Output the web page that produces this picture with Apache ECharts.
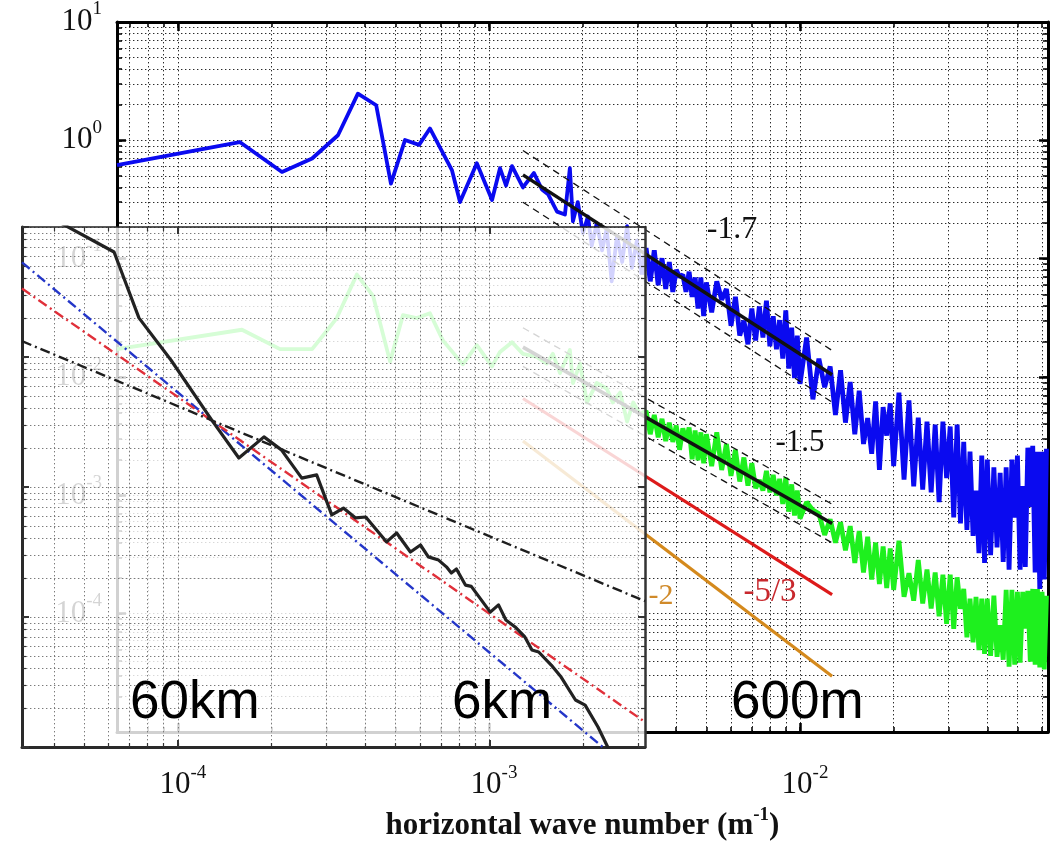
<!DOCTYPE html>
<html>
<head>
<meta charset="utf-8">
<script src="https://cdn.jsdelivr.net/npm/echarts@6/dist/echarts.min.js"></script>
<style>
  html, body { margin: 0; padding: 0; background: #fff; }
  #chart { width: 1064px; height: 846px; }
</style>
</head>
<body>
<div id="chart"></div>
<script>
// ---------- horizontal wave-number spectra (k in m^-1) ----------
// blue spectrum, low wave numbers
const blueLowK = [6.37e-5, 1.58e-4, 2.16e-4, 2.70e-4, 3.27e-4, 3.79e-4, 4.34e-4, 4.84e-4, 5.37e-4, 5.96e-4,
  6.46e-4, 7.60e-4, 8.07e-4, 9.14e-4, 1.023e-3, 1.085e-3, 1.135e-3, 1.186e-3, 1.286e-3, 1.395e-3,
  1.480e-3, 1.548e-3, 1.655e-3, 1.755e-3, 1.82e-3, 1.862e-3, 1.93e-3, 2.005e-3, 2.08e-3, 2.14e-3,
  2.22e-3, 2.31e-3, 2.39e-3, 2.48e-3, 2.58e-3, 2.68e-3, 2.78e-3, 2.88e-3, 2.99e-3, 3.10e-3];
const blueLowE = [0.617, 0.968, 0.541, 0.703, 1.105, 2.48, 1.98, 0.431, 1.006, 0.916,
  1.26, 0.561, 0.301, 0.640, 0.313, 0.582, 0.415, 0.605, 0.400, 0.530,
  0.385, 0.351, 0.250, 0.236, 0.582, 0.207, 0.301, 0.165, 0.227, 0.129,
  0.199, 0.1175, 0.178, 0.0644, 0.156, 0.0938, 0.188, 0.0838, 0.142, 0.0734];

// green spectrum, low wave numbers
const greenLowK = [6.37e-5, 1.607e-4, 2.13e-4, 2.70e-4, 3.03e-4, 3.24e-4, 3.76e-4, 4.24e-4, 4.81e-4, 5.29e-4,
  5.86e-4, 6.46e-4, 7.11e-4, 8.24e-4, 9.14e-4, 1.023e-3, 1.085e-3, 1.186e-3, 1.286e-3, 1.425e-3,
  1.535e-3, 1.605e-3, 1.692e-3, 1.782e-3, 1.82e-3, 1.862e-3, 1.962e-3, 2.065e-3, 2.22e-3, 2.39e-3,
  2.50e-3, 2.64e-3, 2.78e-3, 2.91e-3, 3.06e-3];
const greenLowE = [0.0172, 0.0251, 0.0172, 0.0172, 0.0251, 0.0315, 0.0734, 0.0485, 0.0135, 0.0333,
  0.0315, 0.0346, 0.0204, 0.0128, 0.0186, 0.0123, 0.0163, 0.0197, 0.0157, 0.0148,
  0.0130, 0.0157, 0.0108, 0.0148, 0.0169, 0.0089, 0.0130, 0.0061, 0.0089, 0.0080,
  0.0061, 0.0074, 0.0042, 0.0061, 0.0048];

// high wave numbers, shared by both spectra
const highK = [0.0032, 0.0033, 0.0034, 0.0035, 0.0036, 0.0037, 0.0038, 0.0039, 0.0040, 0.0041,
  0.0042, 0.0043, 0.0044, 0.0045, 0.0046, 0.0047, 0.0048, 0.0049, 0.0050, 0.0052,
  0.0054, 0.0056, 0.0058, 0.0060, 0.0062, 0.0064, 0.0066, 0.0068, 0.0070, 0.0072,
  0.0074, 0.0076, 0.0078, 0.0080, 0.0082, 0.0084, 0.0086, 0.0088, 0.0090, 0.0092,
  0.0094, 0.0096, 0.0098, 0.0100, 0.0105, 0.0110, 0.0115, 0.0120, 0.0125, 0.0130,
  0.0135, 0.0140, 0.0145, 0.0150, 0.0155, 0.0160, 0.0165, 0.0170, 0.0175, 0.0180,
  0.0185, 0.0190, 0.0195, 0.0200, 0.0208, 0.0216, 0.0224, 0.0232, 0.0240, 0.0248,
  0.0256, 0.0264, 0.0272, 0.0280, 0.0288, 0.0296, 0.0304, 0.0312, 0.0320, 0.0328,
  0.0336, 0.0344, 0.0352, 0.0360, 0.0368, 0.0376, 0.0384, 0.0392, 0.0400, 0.041,
  0.042, 0.043, 0.044, 0.045, 0.046, 0.047, 0.048, 0.049, 0.050, 0.051,
  0.052, 0.053, 0.054, 0.055, 0.056, 0.057, 0.058, 0.059, 0.060, 0.061,
  0.062];
const blueHighE = [0.123, 0.0644, 0.118, 0.0597, 0.101, 0.0554, 0.0938, 0.0524, 0.0806, 0.070,
  0.0734, 0.0524, 0.0777, 0.0476, 0.0693, 0.0380, 0.0693, 0.0327, 0.0631, 0.0352,
  0.0644, 0.045, 0.0554, 0.0271, 0.0476, 0.0224, 0.030, 0.0189, 0.0380, 0.0204,
  0.0394, 0.0216, 0.0442, 0.0182, 0.0327, 0.0172, 0.0303, 0.0143, 0.0366, 0.0118,
  0.0261, 0.00978, 0.0224, 0.00874, 0.0216, 0.00648, 0.0143, 0.0082, 0.0123, 0.00479,
  0.0114, 0.00412, 0.00907, 0.00329, 0.00766, 0.00272, 0.0045, 0.00225, 0.00623, 0.00164,
  0.00557, 0.0032, 0.00600, 0.00177, 0.00739, 0.00136, 0.00635, 0.00119, 0.00453, 0.00112,
  0.00420, 0.00106, 0.00397, 8.79e-4, 0.00420, 0.0014, 0.00382, 6.52e-4, 0.00397, 5.81e-4,
  0.00283, 5.10e-4, 0.00234, 4.55e-4, 0.0011, 3.25e-4, 0.00217, 2.69e-4, 0.00201, 3.12e-4,
  0.00173, 3.63e-4, 0.00155, 2.74e-4, 0.00173, 2.36e-4, 0.00201, 6.5e-4, 0.00217, 2.36e-4,
  0.0012, 2.49e-4, 0.00253, 8.0e-4, 0.00262, 2.23e-4, 0.00234, 1.62e-4, 0.00234, 1.95e-4,
  0.00248];
const greenHighE = [5.17e-3, 3.29e-3, 4.79e-3, 3.10e-3, 4.44e-3, 2.88e-3, 4.12e-3, 2.83e-3, 3.89e-3, 2.43e-3,
  3.68e-3, 2.9e-3, 3.75e-3, 2.02e-3, 3.54e-3, 1.98e-3, 3.41e-3, 1.87e-3, 3.29e-3, 1.77e-3,
  3.41e-3, 1.64e-3, 2.72e-3, 1.46e-3, 2.43e-3, 1.31e-3, 2.09e-3, 1.21e-3, 1.87e-3, 1.15e-3,
  1.35e-3, 1.10e-3, 1.61e-3, 1.06e-3, 1.49e-3, 1.00e-3, 1.38e-3, 8.47e-4, 1.41e-3, 7.29e-4,
  1.24e-3, 6.77e-4, 1.10e-3, 6.38e-4, 8.79e-4, 7.5e-4, 7.02e-4, 4.64e-4, 6.27e-4, 3.99e-4,
  5.93e-4, 3.43e-4, 5.50e-4, 2.69e-4, 5.00e-4, 2.23e-4, 4.47e-4, 1.95e-4, 3.99e-4, 1.78e-4,
  3.70e-4, 1.65e-4, 3.56e-4, 1.59e-4, 4.14e-4, 1.39e-4, 2.2e-4, 1.29e-4, 2.84e-4, 1.22e-4,
  2.36e-4, 1.11e-4, 2.23e-4, 9.54e-5, 2.14e-4, 8.21e-5, 2.14e-4, 7.45e-5, 2.03e-4, 1.1e-4,
  1.62e-4, 6.31e-5, 1.34e-4, 5.74e-5, 1.39e-4, 4.94e-5, 1.34e-4, 4.58e-5, 1.34e-4, 4.41e-5,
  1.42e-4, 4.33e-5, 8.0e-5, 4.09e-5, 1.59e-4, 3.58e-5, 1.59e-4, 3.72e-5, 1.53e-4, 3.86e-5,
  1.53e-4, 7.5e-5, 1.56e-4, 3.93e-5, 1.62e-4, 3.72e-5, 1.62e-4, 3.52e-5, 1.53e-4, 3.38e-5,
  1.42e-4];

// power-law reference lines of the main panel: value at the first wave number, slope
const fitK = [1.286e-3, 1.268e-2];
const blueSlope = -1.7;
const blueFitE = 0.511, blueUpperE = 0.82, blueLowerE = 0.30;
const greenSlope = -1.5;
const greenFitE = 0.0179, greenUpperE = 0.0261, greenLowerE = 0.0123;
const redSlope = -5 / 3, redE = 6.59e-3;
const orangeSlope = -2, orangeE = 2.88e-3;
const slopeLabels = ['-1.7', '-1.5', '-5/3', '-2'];

// ---------- inset spectrum ----------
const insetK = [3.72e-5, 6.24e-5, 7.50e-5, 9.5e-5, 1.285e-4, 1.57e-4, 1.89e-4, 2.15e-4, 2.50e-4, 2.79e-4,
  3.12e-4, 3.40e-4, 3.72e-4, 4.01e-4, 4.68e-4, 5.04e-4, 5.58e-4, 6.01e-4, 6.37e-4, 6.87e-4,
  7.28e-4, 7.55e-4, 7.84e-4, 8.38e-4, 8.75e-4, 1.007e-3, 1.07e-3, 1.13e-3, 1.21e-3, 1.30e-3,
  1.37e-3, 1.44e-3, 1.58e-3, 1.70e-3, 1.89e-3, 2.03e-3, 2.23e-3, 2.44e-3];
const insetE = [1.26, 0.642, 0.200, 0.0948, 0.0327, 0.0167, 0.0243, 0.0193, 0.0117, 0.0124,
  0.0061, 0.00689, 0.00578, 0.00588, 0.00378, 0.00443, 0.00316, 0.00358, 0.0029, 0.00274,
  0.00243, 0.00218, 0.00234, 0.00176, 0.00172, 0.00109, 0.00124, 0.000948, 0.000838, 0.000702,
  0.000557, 0.000538, 0.000427, 0.000345, 0.00023, 0.00021, 0.000143, 9.2e-5];
// dash-dot power laws through a common point: k^-2, k^-5/3, k^-1
const insetPivotK = 1.276e-4, insetPivotE = 0.0328;
const insetSlopes = [-2, -5 / 3, -1];
const insetLineK = [3.16e-5, 3.16e-3];

// scale labels
const scaleLabels = ['60km', '6km', '600m'];
const xTitle = 'horizontal wave number (m';

// ---------- axes ranges ----------
const MAIN_X = [6.37e-5, 0.0627];
const MAIN_Y = [1e-5, 10];
const INSET_X = [3.16e-5, 3.16e-3];
const INSET_Y = [1e-4, 1];

const SERIF = '"Liberation Serif", "DejaVu Serif", serif';
const SANS = '"Liberation Sans", Arial, sans-serif';

function logTicks(lo, hi, majorOnly) {
  const out = [];
  for (let e = Math.floor(Math.log10(lo)) - 1; e <= Math.ceil(Math.log10(hi)); e++) {
    for (let m = 1; m <= 9; m++) {
      if (majorOnly && m > 1) continue;
      const v = +(m * Math.pow(10, e)).toPrecision(6);
      if (v >= lo * 0.9999 && v <= hi * 1.0001) out.push(v);
    }
  }
  return out;
}

const supFormatter = v => '{b|10}{s|' + Math.round(Math.log10(v)) + '}';

function logAxis(o) {
  const ticks = logTicks(o.range[0], o.range[1], o.majorOnly);
  return {
    type: 'log', logBase: 10, gridIndex: o.grid, position: o.pos,
    min: o.range[0], max: o.range[1], z: o.z || 0, silent: true,
    axisLine: { show: !!o.line, onZero: false, lineStyle: { color: o.lineColor || '#000', width: o.line || 1 } },
    axisTick: { show: true, inside: true, length: o.tickLen, customValues: ticks,
      lineStyle: { color: o.tickColor || '#000', width: o.tickWidth } },
    axisLabel: o.label || { show: false },
    splitLine: o.split ? { show: true, customValues: ticks, lineStyle: o.split } : { show: false },
    minorTick: { show: false }, minorSplitLine: { show: false },
    name: o.name || '', nameLocation: 'middle', nameGap: o.nameGap || 0,
    nameTextStyle: o.nameStyle || {}
  };
}

const mainGridLine = { color: '#2a2a2a', width: 1, type: [1.4, 2.6] };
const insetGridLine = { color: '#7a7a7a', width: 1, type: [1.4, 2.6] };

const xLabel = {
  show: true, margin: 31, customValues: [1e-4, 1e-3, 1e-2],
  formatter: supFormatter,
  rich: {
    b: { fontFamily: SERIF, fontSize: 31, color: '#111', lineHeight: 44, padding: [0, 0, 0, 10] },
    s: { fontFamily: SERIF, fontSize: 19, color: '#111', lineHeight: 12, verticalAlign: 'top' }
  }
};
const yLabel = {
  show: true, margin: 15, customValues: [1e-4, 1e-3, 1e-2, 1e-1, 1, 10],
  formatter: supFormatter,
  rich: {
    b: { fontFamily: SERIF, fontSize: 31, color: '#111', lineHeight: 44 },
    s: { fontFamily: SERIF, fontSize: 19, color: '#111', lineHeight: 14, verticalAlign: 'top' }
  }
};

const xAxes = [
  logAxis({ grid: 0, pos: 'bottom', range: MAIN_X, line: 3, tickLen: 5, tickWidth: 1.5, split: mainGridLine,
    label: xLabel, name: '{t|' + xTitle + '}{s|-1}{t|)}', nameGap: 58,
    nameStyle: { rich: {
      t: { fontFamily: SERIF, fontWeight: 'bold', fontSize: 31, color: '#111', lineHeight: 40 },
      s: { fontFamily: SERIF, fontWeight: 'bold', fontSize: 19, color: '#111', lineHeight: 16, verticalAlign: 'top' }
    } } }),
  logAxis({ grid: 0, pos: 'top', range: MAIN_X, line: 3, tickLen: 5, tickWidth: 1.5 }),
  logAxis({ grid: 0, pos: 'bottom', range: MAIN_X, majorOnly: true, tickLen: 9, tickWidth: 2.5 }),
  logAxis({ grid: 0, pos: 'top', range: MAIN_X, majorOnly: true, tickLen: 9, tickWidth: 2.5 }),
  logAxis({ grid: 1, pos: 'bottom', range: INSET_X, line: 3, lineColor: '#2a2a2a', tickLen: 4, tickWidth: 1.2,
    tickColor: '#333', split: insetGridLine, z: 11 }),
  logAxis({ grid: 1, pos: 'top', range: INSET_X, line: 1.5, lineColor: '#222', tickLen: 4, tickWidth: 1.2, tickColor: '#333', z: 11 }),
  logAxis({ grid: 1, pos: 'bottom', range: INSET_X, majorOnly: true, tickLen: 7, tickWidth: 2, tickColor: '#333', z: 11 }),
  logAxis({ grid: 1, pos: 'top', range: INSET_X, majorOnly: true, tickLen: 7, tickWidth: 2, tickColor: '#333', z: 11 })
];
const yAxes = [
  logAxis({ grid: 0, pos: 'left', range: MAIN_Y, line: 3, tickLen: 5, tickWidth: 1.5, split: mainGridLine, label: yLabel }),
  logAxis({ grid: 0, pos: 'right', range: MAIN_Y, line: 3, tickLen: 5, tickWidth: 1.5 }),
  logAxis({ grid: 0, pos: 'left', range: MAIN_Y, majorOnly: true, tickLen: 9, tickWidth: 2.5 }),
  logAxis({ grid: 0, pos: 'right', range: MAIN_Y, majorOnly: true, tickLen: 9, tickWidth: 2.5 }),
  logAxis({ grid: 1, pos: 'left', range: INSET_Y, line: 3, lineColor: '#2a2a2a', tickLen: 4, tickWidth: 1.2,
    tickColor: '#333', split: insetGridLine, z: 11 }),
  logAxis({ grid: 1, pos: 'right', range: INSET_Y, line: 2.5, lineColor: '#333', tickLen: 4, tickWidth: 1.2, tickColor: '#333', z: 11 }),
  logAxis({ grid: 1, pos: 'left', range: INSET_Y, majorOnly: true, tickLen: 7, tickWidth: 2, tickColor: '#333', z: 11 }),
  logAxis({ grid: 1, pos: 'right', range: INSET_Y, majorOnly: true, tickLen: 7, tickWidth: 2, tickColor: '#333', z: 11 })
];

const zip = (ks, es) => ks.map((k, i) => [k, es[i]]);
const powerLaw = (k0, e0, slope, ks) => ks.map(k => [k, e0 * Math.pow(k / k0, slope)]);

function lineSeries(name, data, color, width, opts) {
  opts = opts || {};
  return {
    type: 'line', name, data, symbol: 'none', showSymbol: false, silent: true, clip: true,
    xAxisIndex: opts.inset ? 4 : 0, yAxisIndex: opts.inset ? 4 : 0,
    z: opts.z || 2, animation: false,
    lineStyle: { color, width, type: opts.type || 'solid', join: opts.join || 'round', cap: 'butt' }
  };
}

const dashed = [7, 5];
const dashDot = [10, 4, 2, 4];

// the dense high-wave-number part continues from the last low-wave-number sample
const blueLow = zip(blueLowK, blueLowE);
const greenLow = zip(greenLowK, greenLowE);
const blueHigh = [blueLow[blueLow.length - 1]].concat(zip(highK, blueHighE));
const greenHigh = [greenLow[greenLow.length - 1]].concat(zip(highK, greenHighE));

const BLUE = '#0a0af0', GREEN = '#1ef01e';

const series = [
  lineSeries('green', greenLow, GREEN, 3.8),
  lineSeries('green high', greenHigh, GREEN, 4.8, { join: 'bevel' }),
  lineSeries('blue', blueLow, BLUE, 3.8),
  lineSeries('blue high', blueHigh, BLUE, 4.8, { join: 'bevel' }),
  lineSeries('blue fit', powerLaw(fitK[0], blueFitE, blueSlope, fitK), '#111', 3.5, { z: 3 }),
  lineSeries('blue upper', powerLaw(fitK[0], blueUpperE, blueSlope, fitK), '#111', 1.3, { z: 3, type: dashed }),
  lineSeries('blue lower', powerLaw(fitK[0], blueLowerE, blueSlope, fitK), '#111', 1.3, { z: 3, type: dashed }),
  lineSeries('green fit', powerLaw(fitK[0], greenFitE, greenSlope, fitK), '#111', 3.5, { z: 3 }),
  lineSeries('green upper', powerLaw(fitK[0], greenUpperE, greenSlope, fitK), '#111', 1.3, { z: 3, type: dashed }),
  lineSeries('green lower', powerLaw(fitK[0], greenLowerE, greenSlope, fitK), '#111', 1.3, { z: 3, type: dashed }),
  lineSeries('-5/3', powerLaw(fitK[0], redE, redSlope, fitK), '#dd1a1a', 3.2, { z: 3 }),
  lineSeries('-2', powerLaw(fitK[0], orangeE, orangeSlope, fitK), '#d4891c', 3.2, { z: 3 }),
  // inset
  lineSeries('inset -2', powerLaw(insetPivotK, insetPivotE, insetSlopes[0], insetLineK), '#2436c8', 2.4, { inset: true, z: 12, type: dashDot }),
  lineSeries('inset -5/3', powerLaw(insetPivotK, insetPivotE, insetSlopes[1], insetLineK), '#e0303a', 2.4, { inset: true, z: 12, type: dashDot }),
  lineSeries('inset -1', powerLaw(insetPivotK, insetPivotE, insetSlopes[2], insetLineK), '#1e1e1e', 2.4, { inset: true, z: 12, type: dashDot }),
  lineSeries('inset spectrum', zip(insetK, insetE), '#222', 3.2, { inset: true, z: 13 })
];

function text(str, x, y, font, color, align) {
  return {
    type: 'text', x, y, z: 50, silent: true,
    style: { text: str, font, fill: color, align: align || 'center', verticalAlign: 'middle',
      textAlign: align || 'center', textVerticalAlign: 'middle' }
  };
}

const option = {
  backgroundColor: '#fff',
  animation: false,
  grid: [
    { left: 117, top: 14, right: 16, bottom: 98, show: false },
    { left: 22, top: 227, width: 623, height: 520, show: true, z: 10,
      backgroundColor: 'rgba(255,255,255,0.82)', borderWidth: 0 }
  ],
  xAxis: xAxes,
  yAxis: yAxes,
  series,
  graphic: [
    text(slopeLabels[0], 732, 230, '32px ' + SERIF, '#111'),
    text(slopeLabels[1], 800, 443, '31px ' + SERIF, '#111'),
    text(slopeLabels[2], 770, 592, '33px ' + SERIF, '#c8282d'),
    text(slopeLabels[3], 661, 596, '30px ' + SERIF, '#d08a2a'),
    text(scaleLabels[0], 130, 703, '53px ' + SANS, '#000', 'left'),
    text(scaleLabels[1], 452, 703, '53px ' + SANS, '#000', 'left'),
    text(scaleLabels[2], 731, 703, '53px ' + SANS, '#000', 'left')
  ]
};

const chart = echarts.init(document.getElementById('chart'), null, { renderer: 'canvas' });
chart.setOption(option);
</script>
</body>
</html>
